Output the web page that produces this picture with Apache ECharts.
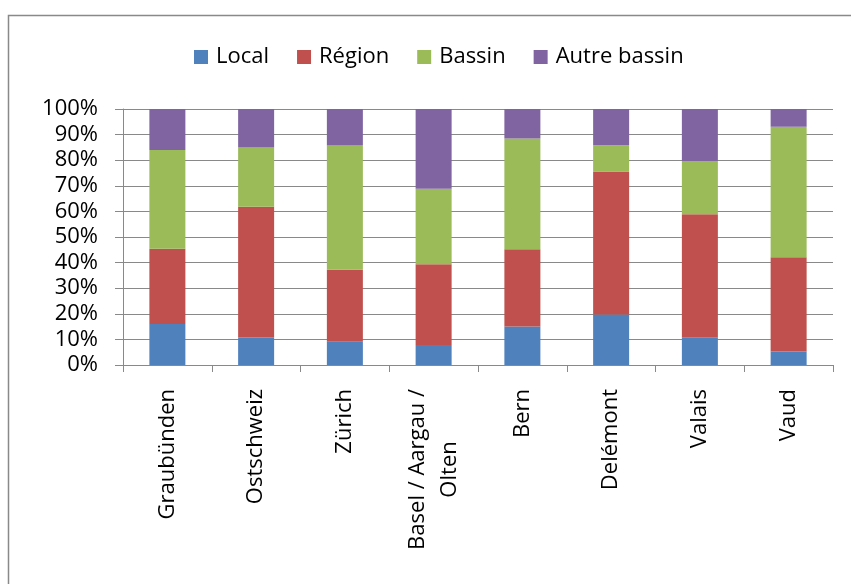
<!DOCTYPE html>
<html>
<head>
<meta charset="utf-8">
<script src="https://cdn.jsdelivr.net/npm/echarts@6/dist/echarts.min.js"></script>
<style>
  html, body { margin: 0; padding: 0; background: #ffffff; }
  #chart { width: 851px; height: 584px; }
</style>
</head>
<body>
<div id="chart"></div>
<script>
const categories = ['Graubünden', 'Ostschweiz', 'Zürich', 'Basel / Aargau /\nOlten', 'Bern', 'Delémont', 'Valais', 'Vaud'];
const local      = [16.0, 10.7,  9.1,  7.8, 15.0, 19.7, 10.8,  5.3];
const region     = [29.4, 51.1, 28.1, 31.6, 30.2, 55.9, 48.1, 36.8];
const bassin     = [38.6, 23.2, 48.5, 29.4, 43.3, 10.2, 20.8, 51.0];
const autre      = [16.0, 15.0, 14.3, 31.2, 11.5, 14.2, 20.3,  6.9];
const seriesNames = ['Local', 'Région', 'Bassin', 'Autre bassin'];
const colors = ['#4F81BD', '#C0504D', '#9BBB59', '#8064A2'];

const FONT = '"Open Sans", "DejaVu Sans", sans-serif';
const GRID_COLOR = '#898989';

const chart = echarts.init(document.getElementById('chart'), null, { renderer: 'canvas' });
const values = [local, region, bassin, autre];

chart.setOption({
  animation: false,
  backgroundColor: '#ffffff',
  textStyle: { fontFamily: FONT },
  graphic: [{
    type: 'rect',
    shape: { x: 8.5, y: 15.5, width: 1000, height: 1000 },
    style: { fill: 'none', stroke: GRID_COLOR, lineWidth: 1.5 },
    silent: true
  }],
  legend: {
    top: 41,
    left: 189,
    itemWidth: 14,
    itemHeight: 14,
    itemGap: 28,
    icon: 'rect',
    textStyle: { fontFamily: FONT, fontSize: 22, color: '#000000', padding: [0, 0, 0, 3] },
    data: seriesNames
  },
  grid: { left: 123, right: 18, top: 109, bottom: 219, containLabel: false },
  xAxis: {
    type: 'category',
    data: categories,
    boundaryGap: true,
    axisLine: { show: true, lineStyle: { color: GRID_COLOR, width: 1 } },
    axisTick: { show: true, inside: false, length: 7, alignWithLabel: false, lineStyle: { color: GRID_COLOR } },
    axisLabel: {
      rotate: 90,
      interval: 0,
      margin: 24,
      fontFamily: FONT,
      fontSize: 22,
      color: '#000000',
      formatter: function (v) {
        return v.split('\n').map(function (s) { return '{c|' + s + '}'; }).join('\n');
      },
      rich: { c: { align: 'center', fontFamily: FONT, fontSize: 22, color: '#000000', lineHeight: 32 } }
    }
  },
  yAxis: {
    type: 'value',
    min: 0,
    max: 100,
    interval: 10,
    axisLine: { show: true, lineStyle: { color: GRID_COLOR, width: 1 } },
    axisTick: { show: true, inside: false, length: 8, lineStyle: { color: GRID_COLOR } },
    splitLine: { show: true, lineStyle: { color: GRID_COLOR, width: 1 } },
    axisLabel: {
      margin: 25,
      fontFamily: FONT,
      fontSize: 22,
      color: '#000000',
      formatter: '{value}%'
    }
  },
  series: seriesNames.map(function (name, i) {
    return {
      name: name,
      type: 'bar',
      stack: 'total',
      barWidth: 36,
      itemStyle: { color: colors[i] },
      data: values[i]
    };
  })
});
</script>
</body>
</html>
